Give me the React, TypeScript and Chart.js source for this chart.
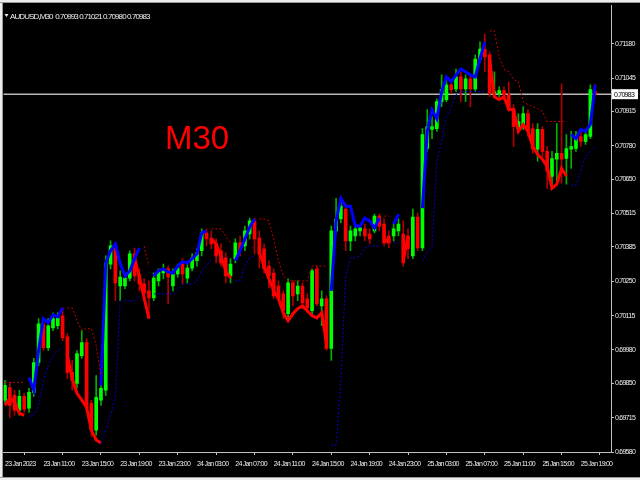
import { useEffect, useRef } from "react";
import { Chart, registerables } from "chart.js";

Chart.register(...registerables);

const N = null;

const headerText = "AUDUSD,M30  0.70993 0.71021 0.70980 0.70983";
const periodLabel = "M30";
const bidPrice = 0.70983;

const xTickIndex = [0, 8, 16, 24, 32, 40, 48, 56, 64, 72, 80, 88, 96, 104, 112, 120];
const xTickLabels = [
  "23 Jan 2023", "23 Jan 11:00", "23 Jan 15:00", "23 Jan 19:00", "23 Jan 23:00",
  "24 Jan 03:00", "24 Jan 07:00", "24 Jan 11:00", "24 Jan 15:00", "24 Jan 19:00",
  "24 Jan 23:00", "25 Jan 03:00", "25 Jan 07:00", "25 Jan 11:00", "25 Jan 15:00",
  "25 Jan 19:00",
];
const yTickLabels = [
  "0.69580", "0.69715", "0.69850", "0.69980", "0.70115", "0.70250", "0.70385",
  "0.70515", "0.70650", "0.70780", "0.70915", "0.71045", "0.71180",
];

const opens = [
  0.69783, 0.69833, 0.69802, 0.69744, 0.69798, 0.69752, 0.69814, 0.69931, 0.70083, 0.69989,
  0.70067, 0.70075, 0.70114, 0.70032, 0.69892, 0.69849, 0.69958, 0.70009, 0.69771, 0.69666,
  0.69783, 0.69822, 0.70317, 0.70377, 0.70231, 0.70231, 0.70262, 0.70357, 0.70278, 0.70239,
  0.70212, 0.70184, 0.70251, 0.70282, 0.70298, 0.70231, 0.70278, 0.70317, 0.70262, 0.70301,
  0.70330, 0.70369, 0.70439, 0.70419, 0.70396, 0.70369, 0.70341, 0.70270, 0.70338, 0.70400,
  0.70388, 0.70435, 0.70486, 0.70419, 0.70377, 0.70309, 0.70282, 0.70231, 0.70200, 0.70122,
  0.70243, 0.70200, 0.70231, 0.70181, 0.70134, 0.70298, 0.70153, 0.70181, 0.69986, 0.70447,
  0.70494, 0.70533, 0.70408, 0.70427, 0.70447, 0.70455, 0.70435, 0.70447, 0.70505, 0.70474,
  0.70427, 0.70427, 0.70447, 0.70435, 0.70427, 0.70349, 0.70501, 0.70380, 0.70770, 0.70845,
  0.70848, 0.70954, 0.70962, 0.71020, 0.71004, 0.71051, 0.71004, 0.71043, 0.71004, 0.71121,
  0.71160, 0.71137, 0.70985, 0.70985, 0.70997, 0.70981, 0.70923, 0.70848, 0.70856, 0.70907,
  0.70848, 0.70767, 0.70845, 0.70759, 0.70661, 0.70728, 0.70751, 0.70731, 0.70767, 0.70770,
  0.70817, 0.70798, 0.70817, 0.70993,
];
const highs = [
  0.69861, 0.69853, 0.69822, 0.69822, 0.69810, 0.69830, 0.69947, 0.70103, 0.70103, 0.70103,
  0.70126, 0.70126, 0.70145, 0.70044, 0.69939, 0.69978, 0.70056, 0.70025, 0.69783, 0.69880,
  0.69880, 0.70349, 0.70408, 0.70396, 0.70290, 0.70282, 0.70369, 0.70380, 0.70298, 0.70259,
  0.70251, 0.70282, 0.70298, 0.70317, 0.70309, 0.70298, 0.70317, 0.70338, 0.70321, 0.70357,
  0.70377, 0.70455, 0.70455, 0.70447, 0.70416, 0.70396, 0.70361, 0.70338, 0.70416, 0.70427,
  0.70466, 0.70497, 0.70497, 0.70447, 0.70396, 0.70330, 0.70298, 0.70251, 0.70212, 0.70259,
  0.70251, 0.70251, 0.70243, 0.70200, 0.70298, 0.70309, 0.70212, 0.70192, 0.70466, 0.70575,
  0.70564, 0.70552, 0.70466, 0.70478, 0.70466, 0.70474, 0.70455, 0.70513, 0.70513, 0.70494,
  0.70447, 0.70478, 0.70494, 0.70486, 0.70455, 0.70533, 0.70517, 0.70848, 0.70923, 0.70895,
  0.70965, 0.71059, 0.71040, 0.71040, 0.71082, 0.71071, 0.71059, 0.71059, 0.71137, 0.71188,
  0.71219, 0.71149, 0.71071, 0.71012, 0.71012, 0.71032, 0.70942, 0.70907, 0.70934, 0.70923,
  0.70868, 0.70868, 0.70856, 0.70778, 0.70759, 0.70868, 0.71024, 0.70825, 0.70837, 0.70837,
  0.70837, 0.70845, 0.71020, 0.71021,
];
const lows = [
  0.69771, 0.69716, 0.69724, 0.69724, 0.69736, 0.69736, 0.69798, 0.69919, 0.69978, 0.69978,
  0.70056, 0.70064, 0.70017, 0.69869, 0.69822, 0.69830, 0.69947, 0.69744, 0.69642, 0.69646,
  0.69763, 0.69802, 0.70298, 0.70173, 0.70173, 0.70220, 0.70251, 0.70251, 0.70212, 0.70173,
  0.70103, 0.70173, 0.70231, 0.70259, 0.70161, 0.70212, 0.70266, 0.70239, 0.70243, 0.70290,
  0.70309, 0.70349, 0.70388, 0.70377, 0.70321, 0.70309, 0.70243, 0.70243, 0.70321, 0.70349,
  0.70369, 0.70416, 0.70357, 0.70301, 0.70282, 0.70223, 0.70181, 0.70173, 0.70103, 0.70103,
  0.70153, 0.70173, 0.70142, 0.70126, 0.70114, 0.70153, 0.70075, 0.69978, 0.69939, 0.70439,
  0.70478, 0.70369, 0.70369, 0.70408, 0.70427, 0.70408, 0.70396, 0.70439, 0.70447, 0.70388,
  0.70380, 0.70408, 0.70427, 0.70309, 0.70338, 0.70338, 0.70369, 0.70369, 0.70759, 0.70809,
  0.70837, 0.70934, 0.70954, 0.70985, 0.70993, 0.70954, 0.70954, 0.70934, 0.70993, 0.71110,
  0.71071, 0.70973, 0.70973, 0.70973, 0.70962, 0.70915, 0.70778, 0.70837, 0.70845, 0.70817,
  0.70751, 0.70720, 0.70739, 0.70614, 0.70622, 0.70642, 0.70634, 0.70630, 0.70692, 0.70759,
  0.70778, 0.70786, 0.70809, 0.70980,
];
const closes = [
  0.69841, 0.69763, 0.69744, 0.69798, 0.69748, 0.69814, 0.69931, 0.70083, 0.69989, 0.70075,
  0.70103, 0.70106, 0.70028, 0.69892, 0.69861, 0.69966, 0.70009, 0.69755, 0.69666, 0.69794,
  0.69830, 0.70321, 0.70388, 0.70243, 0.70266, 0.70262, 0.70357, 0.70270, 0.70239, 0.70204,
  0.70184, 0.70262, 0.70286, 0.70298, 0.70266, 0.70278, 0.70301, 0.70278, 0.70301, 0.70341,
  0.70361, 0.70439, 0.70416, 0.70396, 0.70349, 0.70321, 0.70270, 0.70317, 0.70400, 0.70369,
  0.70447, 0.70486, 0.70416, 0.70357, 0.70298, 0.70270, 0.70192, 0.70184, 0.70134, 0.70243,
  0.70192, 0.70231, 0.70165, 0.70145, 0.70290, 0.70161, 0.70181, 0.69986, 0.70447, 0.70494,
  0.70544, 0.70408, 0.70447, 0.70455, 0.70459, 0.70427, 0.70416, 0.70505, 0.70466, 0.70400,
  0.70400, 0.70455, 0.70474, 0.70321, 0.70377, 0.70501, 0.70380, 0.70825, 0.70856, 0.70856,
  0.70954, 0.71001, 0.71020, 0.71001, 0.71051, 0.71004, 0.71043, 0.71004, 0.71121, 0.71160,
  0.71129, 0.70985, 0.70993, 0.70997, 0.70981, 0.70923, 0.70856, 0.70876, 0.70907, 0.70837,
  0.70767, 0.70845, 0.70759, 0.70681, 0.70731, 0.70751, 0.70728, 0.70770, 0.70778, 0.70817,
  0.70798, 0.70825, 0.71001, 0.70983,
];

const blueLine = [
  N, N, N, N, N, 0.69872, 0.69822, 0.69978, 0.70103, 0.70087,
  0.70118, 0.70110, 0.70145, N, N, N, N, N, N, N,
  0.69841, 0.70321, 0.70369, 0.70396, 0.70321, 0.70270, 0.70290, 0.70338, 0.70380, N,
  N, 0.70270, 0.70290, 0.70298, 0.70286, 0.70282, 0.70309, 0.70326, 0.70321, 0.70338,
  0.70357, 0.70439, 0.70447, N, N, N, N, N, 0.70330, 0.70369,
  0.70416, 0.70462, 0.70494, N, N, N, N, N, N, N,
  N, N, N, N, N, N, N, N, 0.70212, 0.70486,
  0.70575, 0.70544, 0.70544, 0.70466, 0.70466, 0.70497, 0.70486, 0.70458, 0.70497, N,
  N, 0.70474, 0.70513, N, N, N, N, 0.70536, 0.70837, 0.70923,
  0.70887, 0.70993, 0.71051, 0.71032, 0.71059, 0.71082, 0.71071, 0.71059, 0.71051, 0.71121,
  0.71188, N, N, N, N, N, N, N, N, N,
  N, N, N, N, N, N, N, N, 0.70825, 0.70809,
  0.70845, 0.70837, 0.70864, 0.71020,
];
const redLine = [
  0.69763, 0.69791, 0.69775, 0.69732, 0.69724, N, N, N, N, N,
  N, N, N, 0.69958, 0.69869, 0.69810, 0.69783, 0.69755, 0.69666, 0.69627,
  0.69615, N, N, N, N, N, N, 0.70341, 0.70266, 0.70184,
  0.70103, N, N, N, N, N, N, N, N, N,
  N, N, N, 0.70416, 0.70396, 0.70349, 0.70290, 0.70262, N, N,
  N, N, N, 0.70361, 0.70309, 0.70259, 0.70212, 0.70181, 0.70126, 0.70095,
  0.70122, 0.70142, 0.70153, 0.70134, 0.70114, 0.70106, 0.70126, 0.70005, N, N,
  N, N, N, N, N, N, N, N, N, 0.70419,
  0.70400, N, N, 0.70330, 0.70427, N, N, N, N, N,
  N, N, N, N, N, N, N, N, N, N,
  N, 0.71121, 0.70973, 0.70962, 0.70973, 0.70923, 0.70923, 0.70837, 0.70864, 0.70837,
  0.70778, 0.70747, 0.70728, 0.70700, 0.70614, 0.70630, 0.70692, 0.70661, N, N,
  N, N, N, N,
];
const upperBand = [
  0.69853, 0.69853, 0.69853, 0.69853, 0.69853, N, N, N, N, N,
  N, N, N, 0.70145, 0.70145, 0.70095, 0.70056, 0.70064, 0.70064, 0.69997,
  0.69880, N, N, N, N, N, N, N, N, 0.70388,
  0.70309, N, N, N, N, N, N, N, N, N,
  N, N, N, 0.70455, 0.70455, 0.70455, 0.70427, 0.70400, N, N,
  N, N, N, 0.70494, 0.70494, 0.70486, 0.70416, 0.70330, 0.70270, 0.70251,
  0.70251, 0.70251, 0.70251, 0.70251, 0.70309, 0.70309, 0.70309, 0.70309, N, N,
  N, N, N, N, N, N, N, N, N, 0.70505,
  0.70505, N, N, N, N, N, N, N, N, N,
  N, N, N, N, N, N, N, N, N, N,
  N, 0.71231, 0.71231, 0.71129, 0.71082, 0.71071, 0.71040, 0.71032, 0.70954, 0.70942,
  0.70934, 0.70927, 0.70915, 0.70876, 0.70876, 0.70876, 0.70876, 0.70876, N, N,
  N, N, N, N,
];
const lowerBand = [
  N, N, N, N, N, 0.69720, 0.69724, 0.69763, 0.69861, 0.69919,
  0.69958, 0.69978, 0.69989, N, N, N, N, N, N, N,
  0.69615, 0.69666, 0.69724, 0.69794, 0.70173, 0.70173, 0.70173, 0.70173, 0.70192, N,
  N, 0.70200, 0.70200, 0.70200, 0.70200, 0.70200, 0.70220, 0.70239, 0.70239, 0.70239,
  0.70251, 0.70290, 0.70309, 0.70338, N, N, N, N, 0.70251, 0.70251,
  0.70309, 0.70341, 0.70349, N, N, N, N, N, N, N,
  N, N, N, N, N, N, N, N, 0.69607, 0.69607,
  0.69861, 0.70270, 0.70341, 0.70341, 0.70349, 0.70380, 0.70388, 0.70388, 0.70388, N,
  N, 0.70400, 0.70400, N, N, N, N, 0.70330, 0.70369, 0.70380,
  0.70720, 0.70798, 0.70895, 0.70934, 0.70981, 0.70993, 0.70993, 0.70993, 0.70993, 0.70993,
  0.70993, N, N, N, N, N, N, N, N, N,
  N, N, N, N, N, N, N, N, 0.70626, 0.70626,
  0.70681, 0.70739, 0.70759, 0.70778,
];

const FONT = '"Liberation Sans", Arial, sans-serif';
const AXIS_SPACING = "-0.75px";

export default function App() {
  const ref = useRef<HTMLCanvasElement>(null);

  useEffect(() => {
    if (!ref.current) return;
    const idx = opens.map((_v, i) => i);
    const bull = idx.map((i) => closes[i] >= opens[i]);
    const pts = (arr: (number | null)[]) => arr.map((v, i) => ({ x: i, y: v }));

    const frame = {
      id: "frame",
      beforeDraw(chart: any) {
        const c = chart.ctx;
        c.save();
        c.fillStyle = "#000000";
        c.fillRect(0, 0, 640, 480);
        c.fillStyle = "#ececec";
        c.fillRect(0, 0, 640, 2);
        c.fillRect(0, 478, 640, 2);
        c.fillRect(0, 0, 2, 480);
        c.strokeStyle = "#9a9a9a";
        c.lineWidth = 1;
        c.beginPath();
        c.moveTo(0, 2.5);
        c.lineTo(640, 2.5);
        c.moveTo(2.5, 2);
        c.lineTo(2.5, 478);
        c.moveTo(0, 477.5);
        c.lineTo(640, 477.5);
        c.stroke();
        c.restore();
        (c as any).letterSpacing = AXIS_SPACING;
      },
      beforeDatasetsDraw(chart: any) {
        const c = chart.ctx;
        const a = chart.chartArea;
        const y = chart.scales.y.getPixelForValue(bidPrice);
        c.save();
        c.strokeStyle = "#b8b8b8";
        c.lineWidth = 1.5;
        c.beginPath();
        c.moveTo(a.left, y);
        c.lineTo(a.right, y);
        c.stroke();
        c.restore();
      },
      afterDraw(chart: any) {
        const c = chart.ctx;
        const a = chart.chartArea;
        const y = chart.scales.y.getPixelForValue(bidPrice);
        c.save();
        c.fillStyle = "#ffffff";
        c.fillRect(a.right + 1, y - 5, 26, 10);
        c.fillStyle = "#000000";
        c.font = `7px ${FONT}`;
        (c as any).letterSpacing = AXIS_SPACING;
        c.textBaseline = "middle";
        c.textAlign = "left";
        c.fillText(bidPrice.toFixed(5), a.right + 3, y + 0.5);
        // header
        c.fillStyle = "#f0f0f0";
        c.beginPath();
        c.moveTo(4.5, 14);
        c.lineTo(8.5, 14);
        c.lineTo(6.5, 17);
        c.closePath();
        c.fill();
        c.textBaseline = "alphabetic";
        c.font = `8px ${FONT}`;
        (c as any).letterSpacing = "-0.9px";
        c.fillText(headerText, 10, 18.5);
        // period label
        (c as any).letterSpacing = "0px";
        c.fillStyle = "#ff0000";
        c.font = `33px "Liberation Sans", Arial, sans-serif`;
        c.fillText(periodLabel, 165, 149);
        c.restore();
      },
    };

    const lineDs = (label: string, arr: (number | null)[], color: string, width: number, dash: number[]) => ({
      type: "line" as const,
      label,
      data: pts(arr),
      borderColor: color,
      backgroundColor: color,
      borderWidth: width,
      borderDash: dash,
      pointRadius: 0,
      tension: 0,
      spanGaps: false,
      order: 0,
    });

    const chart = new Chart(ref.current, {
      type: "bar",
      data: {
        datasets: [
          lineDs("upper", upperBand, "#c00000", 1, [2, 2]),
          lineDs("lower", lowerBand, "#0000d8", 1, [2, 2]),
          lineDs("blue", blueLine, "#0000ff", 3, []),
          lineDs("red", redLine, "#ff0000", 3, []),
          {
            type: "bar",
            label: "bodies",
            data: idx.map((i) => ({ x: i, y: [opens[i], closes[i]] })) as any,
            backgroundColor: bull.map((b) => (b ? "#00ff00" : "#ff0000")),
            barThickness: 3,
            grouped: false,
            minBarLength: 1,
            order: 2,
          } as any,
          {
            type: "bar",
            label: "wicks",
            data: idx.map((i) => ({ x: i, y: [lows[i], highs[i]] })) as any,
            backgroundColor: bull.map((b) => (b ? "#00b000" : "#b00000")),
            barThickness: 1,
            grouped: false,
            order: 3,
          } as any,
        ],
      },
      options: {
        responsive: false,
        animation: false,
        devicePixelRatio: 1,
        layout: { padding: { left: 3, top: 3, right: 0, bottom: 4 } },
        plugins: {
          legend: { display: false },
          tooltip: { enabled: false },
          title: { display: false },
        },
        scales: {
          x: {
            type: "linear",
            min: -0.31,
            max: 126.3,
            offset: false,
            grid: { display: true, drawOnChartArea: false, drawTicks: true, tickLength: 3, color: "#c0c0c0" },
            border: { display: true, color: "#c0c0c0" },
            afterBuildTicks: (s: any) => {
              s.ticks = xTickIndex.map((v) => ({ value: v }));
            },
            afterFit: (s: any) => {
              s.height = 24;
            },
            ticks: {
              autoSkip: false,
              maxRotation: 0,
              minRotation: 0,
              align: "start",
              padding: 5,
              color: "#ececec",
              font: { family: FONT, size: 7 },
              callback: (v: any) => {
                const k = xTickIndex.indexOf(Number(v));
                return k >= 0 ? xTickLabels[k] : "";
              },
            },
          },
          y: {
            type: "linear",
            position: "right",
            min: 0.6958,
            max: 0.71332,
            grid: { display: true, drawOnChartArea: false, drawTicks: true, tickLength: 3, color: "#c0c0c0" },
            border: { display: true, color: "#c0c0c0" },
            afterBuildTicks: (s: any) => {
              s.ticks = yTickLabels.map((t) => ({ value: parseFloat(t) }));
            },
            afterFit: (s: any) => {
              s.width = 29;
            },
            ticks: {
              padding: 1,
              color: "#ececec",
              font: { family: FONT, size: 7 },
              callback: (_v: any, i: number) => yTickLabels[i],
            },
          },
        },
      } as any,
      plugins: [frame],
    });
    return () => chart.destroy();
  }, []);

  return (
    <div style={{ position: "fixed", left: 0, top: 0, width: 640, height: 480, background: "#000" }}>
      <canvas ref={ref} width={640} height={480} style={{ display: "block", width: 640, height: 480 }} />
    </div>
  );
}
